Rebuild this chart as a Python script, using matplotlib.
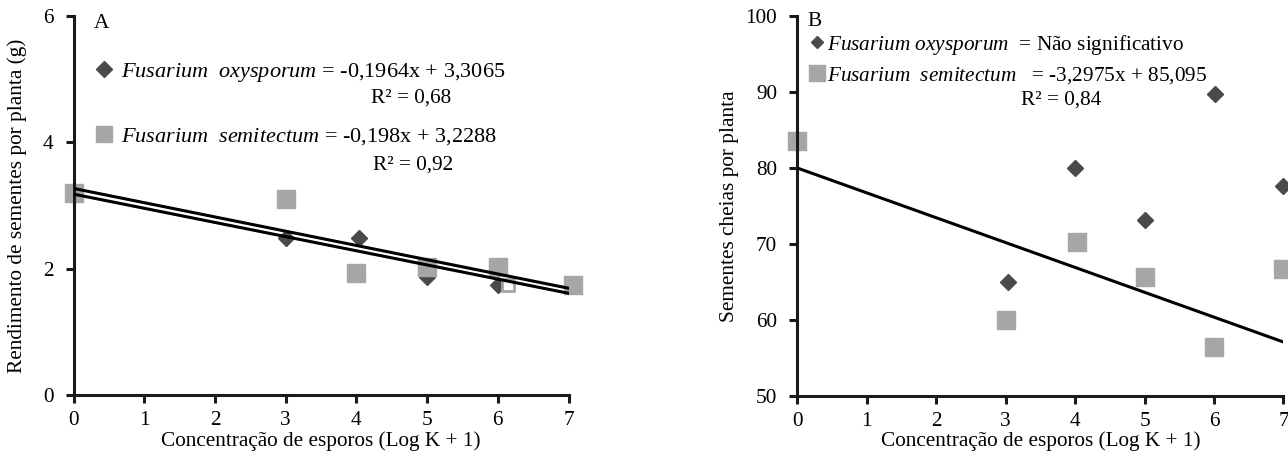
import matplotlib
matplotlib.use("Agg")
import matplotlib.pyplot as plt
from matplotlib.lines import Line2D

################################################################################
# Data
################################################################################
x_ticks         = [0, 1, 2, 3, 4, 5, 6, 7]

# Panel A - Rendimento de sementes por planta (g)
a_fo_x          = [3, 4.03, 5, 6]
a_fo_y          = [2.48, 2.49, 1.87, 1.74]
a_fs_x          = [0, 3, 4, 5, 6, 7.07]
a_fs_y          = [3.19, 3.11, 1.93, 2.03, 2.03, 1.74]
a_hollow_x      = [6.14]
a_hollow_y      = [1.74]
a_trend_x       = [0, 7]
a_trend_fo      = [3.27, 1.69]
a_trend_fs      = [3.18, 1.61]
a_yticks        = [0, 2, 4, 6]

# Panel B - Sementes cheias por planta
b_fo_x          = [3.03, 4, 5, 6.02, 7]
b_fo_y          = [65.0, 80.0, 73.1, 89.8, 77.6]
b_fs_x          = [0, 3, 4.03, 5, 6, 7]
b_fs_y          = [83.5, 60.0, 70.2, 65.6, 56.5, 66.7]
b_trend_x       = [0, 7]
b_trend_fs      = [80.0, 57.1]
b_yticks        = [50, 60, 70, 80, 90, 100]

################################################################################
# Style
################################################################################
FS              = 15.3
FS_LEG_A        = 16
DARK            = "#4a4a4a"
LIGHT           = "#a6a6a6"
LW              = 2.2

plt.rcParams["font.family"]         = ["Liberation Serif", "DejaVu Serif"]
plt.rcParams["font.size"]           = FS
plt.rcParams["mathtext.fontset"]    = "custom"
plt.rcParams["mathtext.rm"]         = "Liberation Serif"
plt.rcParams["mathtext.it"]         = "Liberation Serif:italic"


def style_axes(ax, xlim, ylim, yticks):
    ax.set_xlim(*xlim)
    ax.set_ylim(*ylim)
    ax.set_xticks(x_ticks)
    ax.set_yticks(yticks)
    for side in ("top", "right"):
        ax.spines[side].set_visible(False)
    for side in ("left", "bottom"):
        ax.spines[side].set_linewidth(LW)
        ax.spines[side].set_color("#1a1a1a")
    ax.tick_params(axis="both", direction="out", length=5.5, width=LW,
                   color="#1a1a1a", labelsize=FS)
    ax.tick_params(axis="y", pad=9)
    ax.tick_params(axis="x", pad=6)


fig = plt.figure(figsize=(12.88, 4.58), dpi=100)
ax_a = fig.add_axes([0.0571, 0.1376, 0.3843, 0.8275])
ax_b = fig.add_axes([0.6190, 0.1354, 0.3775, 0.8297])

################################################################################
# Panel A
################################################################################
style_axes(ax_a, (0, 7), (0, 6), a_yticks)
ax_a.plot(a_fo_x, a_fo_y, ls="none", marker="D", ms=8.5, color=DARK,
          zorder=2, clip_on=False)
ax_a.plot(a_fs_x, a_fs_y, ls="none", marker="s", ms=13, color=LIGHT,
          zorder=2.5, clip_on=False)
ax_a.plot(a_hollow_x, a_hollow_y, ls="none", marker="s", ms=9,
          mfc="white", mec=LIGHT, mew=2, zorder=2.6, clip_on=False)
ax_a.plot(a_trend_x, a_trend_fo, color="black", lw=LW, zorder=3)
ax_a.plot(a_trend_x, a_trend_fs, color="black", lw=LW, zorder=3)

ax_a.text(0.29, 5.88, "A", ha="left", va="center")
handles_a = [
    Line2D([], [], ls="none", marker="D", ms=8, color=DARK),
    Line2D([], [], ls="none", marker="s", ms=12, color=LIGHT)]
labels_a = [
    r"$\mathit{Fusarium\ \ oxysporum}$ = -0,1964x + 3,3065",
    r"$\mathit{Fusarium\ \ semitectum}$ = -0,198x + 3,2288"]
ax_a.legend(handles_a, labels_a, loc="upper left",
            bbox_to_anchor=(0.039, 0.882), frameon=False,
            borderpad=0, borderaxespad=0, handlelength=1.0,
            handletextpad=0.25, labelspacing=1.92, fontsize=FS_LEG_A)
ax_a.text(4.2, 4.70, "R² = 0,68", ha="left", va="center")
ax_a.text(4.23, 3.64, "R² = 0,92", ha="left", va="center")

ax_a.set_xlabel("Concentração de esporos (Log K + 1)")
ax_a.set_ylabel("Rendimento de sementes por planta (g)")
ax_a.xaxis.set_label_coords(0.5, -0.097)
ax_a.yaxis.set_label_coords(-0.094, 0.5)

################################################################################
# Panel B
################################################################################
style_axes(ax_b, (0, 7), (50, 100), b_yticks)
ax_b.plot(b_fo_x, b_fo_y, ls="none", marker="D", ms=8.5, color=DARK,
          zorder=2, clip_on=False)
ax_b.plot(b_fs_x, b_fs_y, ls="none", marker="s", ms=13, color=LIGHT,
          zorder=2.5, clip_on=False)
ax_b.plot(b_trend_x, b_trend_fs, color="black", lw=LW, zorder=3)

ax_b.text(0.15, 99.25, "B", ha="left", va="center")
handles_b = [
    Line2D([], [], ls="none", marker="D", ms=6.5, color=DARK),
    Line2D([], [], ls="none", marker="s", ms=11, color=LIGHT)]
labels_b = [
    r"$\mathit{Fusarium\ oxysporum}$  = Não significativo",
    r"$\mathit{Fusarium\ \ semitectum}$   = -3,2975x + 85,095"]
ax_b.legend(handles_b, labels_b, loc="upper left",
            bbox_to_anchor=(0.0226, 0.956), frameon=False,
            borderpad=0, borderaxespad=0, handlelength=0.8,
            handletextpad=0.08, labelspacing=0.40, fontsize=FS)
ax_b.text(3.22, 89.0, "R² = 0,84", ha="left", va="center")

ax_b.set_xlabel("Concentração de esporos (Log K + 1)")
ax_b.set_ylabel("Sementes cheias por planta")
ax_b.xaxis.set_label_coords(0.5, -0.094)
ax_b.yaxis.set_label_coords(-0.12, 0.5)

fig.savefig("out.png", dpi=100)
